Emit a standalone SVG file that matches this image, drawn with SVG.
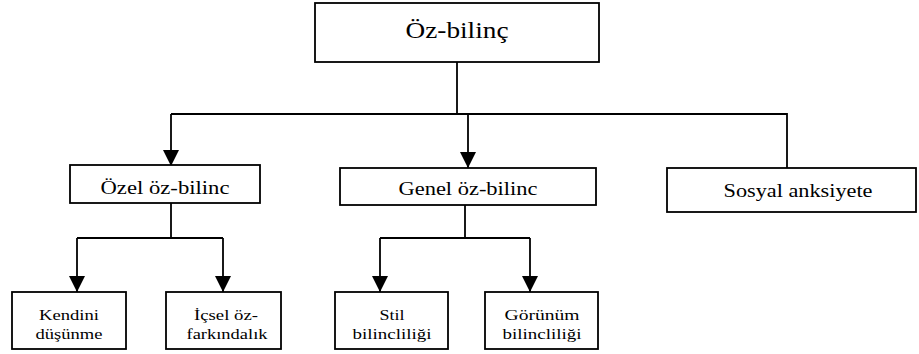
<svg xmlns="http://www.w3.org/2000/svg" width="919" height="354" viewBox="0 0 919 354">
<style>
.box{fill:#fff;stroke:#000;stroke-width:1.8}
.ln{fill:none;stroke:#000;stroke-width:1.8}
.t1{font-size:23px}
.t2{font-size:19px}
.t3{font-size:15px}
</style>
<defs>
<marker id="arr" markerUnits="userSpaceOnUse" markerWidth="16" markerHeight="16" viewBox="0 0 14 14" refX="14" refY="7" orient="auto">
<path d="M0,0 L14,7 L0,14 Z" fill="#000"/>
</marker>
</defs>
<rect width="919" height="354" fill="#fff"/>
<g id="connectors">
<path class="ln" d="M457,62 V114"/>
<path class="ln" d="M171,114 H787 V168"/>
<path class="ln" d="M171,114 V166" marker-end="url(#arr)"/>
<path class="ln" d="M468,114 V168" marker-end="url(#arr)"/>
<path class="ln" d="M171,203 V238"/>
<path class="ln" d="M77,238 H223"/>
<path class="ln" d="M77,238 V292" marker-end="url(#arr)"/>
<path class="ln" d="M223,238 V292" marker-end="url(#arr)"/>
<path class="ln" d="M465,205 V238"/>
<path class="ln" d="M380,238 H530"/>
<path class="ln" d="M380,238 V292" marker-end="url(#arr)"/>
<path class="ln" d="M530,238 V292" marker-end="url(#arr)"/>
</g>
<g font-family="Liberation Serif, DejaVu Serif, serif" text-anchor="middle" fill="#000">
<g id="oz-bilinc">
<rect class="box" x="315" y="3" width="284" height="59"/>
<text class="t1" x="457" y="38" textLength="103" lengthAdjust="spacingAndGlyphs">Öz-bilinç</text>
</g>
<g id="ozel">
<rect class="box" x="70" y="165" width="190" height="38"/>
<text class="t2" x="165" y="194" textLength="129" lengthAdjust="spacingAndGlyphs">Özel öz-bilinc</text>
</g>
<g id="genel">
<rect class="box" x="340" y="168" width="256" height="37"/>
<text class="t2" x="468" y="195" textLength="139" lengthAdjust="spacingAndGlyphs">Genel öz-bilinc</text>
</g>
<g id="sosyal">
<rect class="box" x="667" y="168" width="249" height="44"/>
<text class="t2" x="798" y="197" textLength="149" lengthAdjust="spacingAndGlyphs">Sosyal anksiyete</text>
</g>
<g id="kendini">
<rect class="box" x="12" y="292" width="114" height="57"/>
<text class="t3" x="69" y="320" textLength="60" lengthAdjust="spacingAndGlyphs">Kendini</text>
<text class="t3" x="69" y="339" textLength="67" lengthAdjust="spacingAndGlyphs">düşünme</text>
</g>
<g id="icsel">
<rect class="box" x="166" y="292" width="115" height="57"/>
<text class="t3" x="226" y="320" textLength="64" lengthAdjust="spacingAndGlyphs">İçsel öz-</text>
<text class="t3" x="227" y="339" textLength="81" lengthAdjust="spacingAndGlyphs">farkındalık</text>
</g>
<g id="stil">
<rect class="box" x="335" y="292" width="113" height="57"/>
<text class="t3" x="392" y="320" textLength="25" lengthAdjust="spacingAndGlyphs">Stil</text>
<text class="t3" x="392" y="339" textLength="79" lengthAdjust="spacingAndGlyphs">bilincliliği</text>
</g>
<g id="gorunum">
<rect class="box" x="485" y="292" width="113" height="57"/>
<text class="t3" x="542" y="320" textLength="75" lengthAdjust="spacingAndGlyphs">Görünüm</text>
<text class="t3" x="542" y="339" textLength="79" lengthAdjust="spacingAndGlyphs">bilincliliği</text>
</g>
</g>
</svg>
